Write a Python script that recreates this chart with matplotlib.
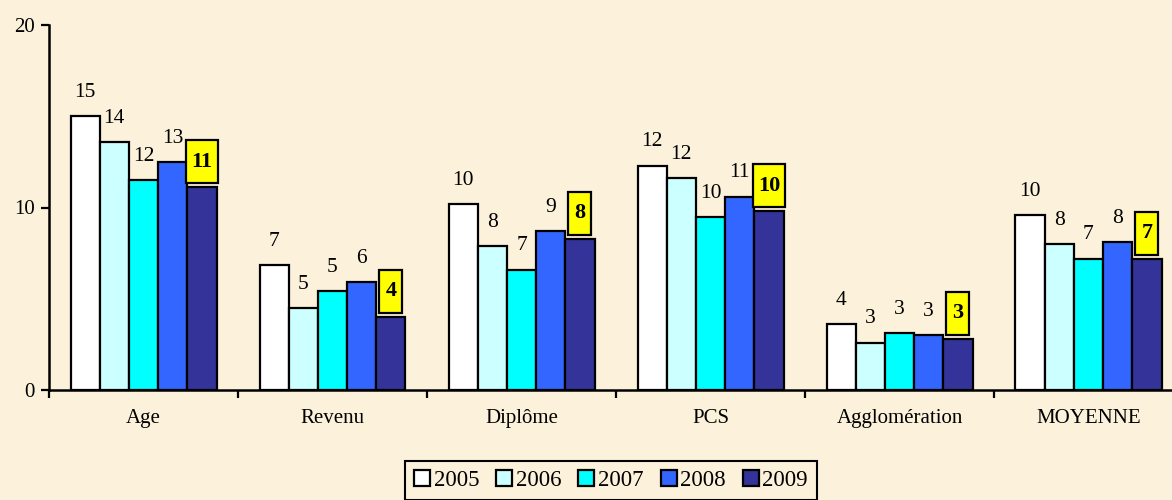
import matplotlib
matplotlib.use('Agg')
from matplotlib import pyplot as plt
from matplotlib.patches import Rectangle
import numpy as np

plt.rcParams['font.family'] = ['Liberation Serif', 'DejaVu Serif']

categories = ['Age', 'Revenu', 'Diplôme', 'PCS', 'Agglomération', 'MOYENNE']
years = ['2005', '2006', '2007', '2008', '2009']
colors = ['#FFFFFF', '#CCFFFF', '#00FFFF', '#3366FF', '#333399']

v2005 = [15.0, 6.85, 10.2, 12.3, 3.6, 9.6]
v2006 = [13.6, 4.5, 7.9, 11.6, 2.6, 8.0]
v2007 = [11.5, 5.4, 6.6, 9.5, 3.1, 7.2]
v2008 = [12.5, 5.9, 8.7, 10.6, 3.0, 8.1]
v2009 = [11.1, 4.0, 8.3, 9.8, 2.8, 7.2]

lab2005 = ['15', '7', '10', '12', '4', '10']
lab2006 = ['14', '5', '8', '12', '3', '8']
lab2007 = ['12', '5', '7', '10', '3', '7']
lab2008 = ['13', '6', '9', '11', '3', '8']
lab2009 = ['11', '4', '8', '10', '3', '7']

series = [v2005, v2006, v2007, v2008, v2009]
labels = [lab2005, lab2006, lab2007, lab2008, lab2009]

bg = '#FCF1DA'
fig = plt.figure(figsize=(11.72, 5.0), dpi=100, facecolor=bg)
ax = fig.add_axes([49 / 1172, 1 - 390 / 500, 1123 / 1172, 365 / 500])
ax.set_facecolor(bg)

x = np.arange(len(categories))
w = 29.2 / 189  # bar width in category units

for j, (vals, labs) in enumerate(zip(series, labels)):
    pos = x + (j - 2) * w
    ax.bar(pos, vals, width=w, color=colors[j], edgecolor='black',
           linewidth=1.6, label=years[j], zorder=2)
    for px, v, t in zip(pos, vals, labs):
        if j < 4:
            ax.annotate(t, (px, v), xytext=(0, 17), textcoords='offset points',
                        ha='center', va='center', fontsize=15.5)
        else:
            # yellow highlighted label for the last year
            bw = (32 if len(t) > 1 else 23) / 189
            bh = 43 / 18.25
            y0 = v + 4 / 18.25
            ax.add_patch(Rectangle((px - bw / 2, y0), bw, bh, facecolor='#FFFF00',
                                   edgecolor='black', linewidth=1.6, zorder=3))
            ax.text(px, y0 + bh / 2, t, ha='center', va='center', fontsize=16,
                    fontweight='bold', zorder=4)

ax.set_xlim(-0.5, -0.5 + 1123 / 189)
ax.set_ylim(0, 20)
ax.set_yticks([0, 10, 20])
ax.set_xticks(np.arange(-0.5, 5.5, 1.0))
ax.set_xticklabels([])
ax.set_xticks(x, minor=True)
ax.set_xticklabels(categories, minor=True, fontsize=15)
ax.tick_params(axis='x', which='minor', length=0, pad=14)
ax.tick_params(axis='x', which='major', direction='out', length=6, width=1.6)
ax.tick_params(axis='y', direction='out', length=6, width=1.6, labelsize=15, pad=4)
for s in ['top', 'right']:
    ax.spines[s].set_visible(False)
for s in ['left', 'bottom']:
    ax.spines[s].set_linewidth(1.8)

leg = fig.legend(loc='upper center', bbox_to_anchor=(611 / 1172, 1 - 461 / 500),
                 ncol=5, fontsize=16.5, frameon=True, fancybox=False,
                 handlelength=0.7, handleheight=0.7, handletextpad=0.15,
                 columnspacing=0.75, borderpad=0.4, borderaxespad=0)
leg.get_frame().set_edgecolor('black')
leg.get_frame().set_linewidth(1.5)
leg.get_frame().set_facecolor(bg)
leg.get_frame().set_alpha(1)

fig.savefig('out.png', dpi=100, facecolor=bg)
